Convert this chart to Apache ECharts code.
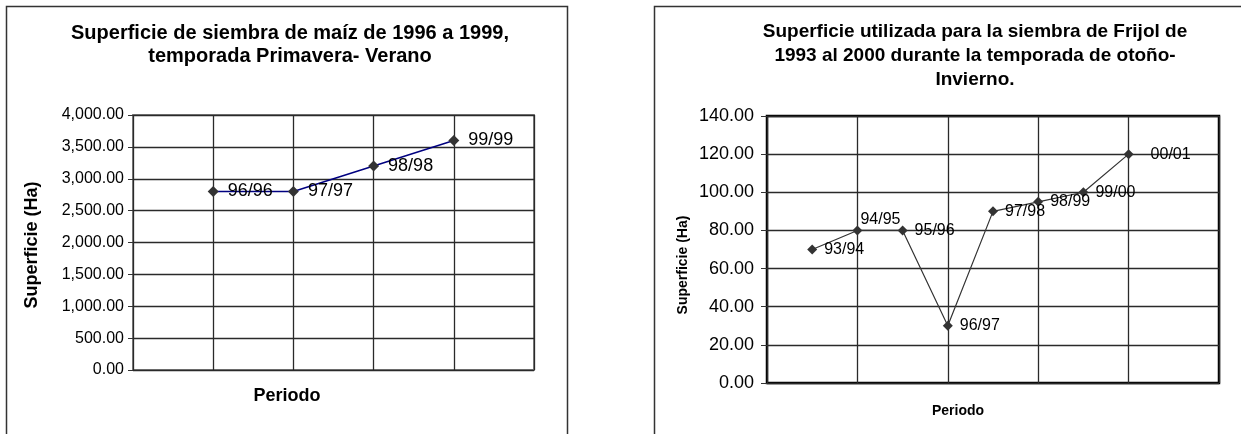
<!DOCTYPE html>
<html>
<head>
<meta charset="utf-8">
<script src="https://cdn.jsdelivr.net/npm/echarts@6/dist/echarts.min.js"></script>
<style>
  html, body { margin: 0; padding: 0; background: #fff; }
  #main { width: 1241px; height: 434px; }
</style>
</head>
<body>
<div id="main"></div>
<script>
// maiz, primavera-verano
var maizPeriodos = ['96/96', '97/97', '98/98', '99/99'];
var maizX = [1, 2, 3, 4];
var maizHa = [2800, 2800, 3200, 3600];

// frijol, otono-invierno
var frijolPeriodos = ['93/94', '94/95', '95/96', '96/97', '97/98', '98/99', '99/00', '00/01'];
var frijolX = [1, 2, 3, 4, 5, 6, 7, 8];
var frijolHa = [70, 80, 80, 30, 90, 95, 100, 120];

var FONT = 'Liberation Sans, Arial, sans-serif';

function fmtNum(v) {
    var s = v.toFixed(2).split('.');
    s[0] = s[0].replace(/\B(?=(\d{3})+(?!\d))/g, ',');
    return s.join('.');
}

var maizData = [];
for (var i = 0; i < maizX.length; i++) {
    maizData.push({ value: [maizX[i], maizHa[i]], name: maizPeriodos[i] });
}

var frijolData = [];
for (var j = 0; j < frijolX.length; j++) {
    var item = { value: [frijolX[j], frijolHa[j]], name: frijolPeriodos[j] };
    if (frijolPeriodos[j] == '94/95') {
        item.label = { offset: [-9, -11] };
    }
    if (frijolPeriodos[j] == '00/01') {
        item.label = { offset: [10, 0] };
    }
    frijolData.push(item);
}

var chart = echarts.init(document.getElementById('main'));
var option = {
    animation: false,
    backgroundColor: '#fff',
    graphic: [
        { type: 'rect', shape: { x: 6.5, y: 6.5, width: 561, height: 500 },
          style: { fill: 'none', stroke: '#333', lineWidth: 1.5 } },
        { type: 'rect', shape: { x: 654.5, y: 6.5, width: 700, height: 500 },
          style: { fill: 'none', stroke: '#333', lineWidth: 1.5 } },
        { type: 'text', x: 290, y: 22,
          style: { text: 'Superficie de siembra de maíz de 1996 a 1999,\ntemporada Primavera- Verano',
                   font: 'bold 20px ' + FONT, fill: '#000', align: 'center', lineHeight: 23 } },
        { type: 'text', x: 975, y: 20,
          style: { text: 'Superficie utilizada para la siembra de Frijol de\n1993 al 2000 durante la temporada de otoño-\nInvierno.',
                   font: 'bold 19px ' + FONT, fill: '#000', align: 'center', lineHeight: 24 } },
        { type: 'text', x: 32, y: 245, rotation: Math.PI / 2,
          style: { text: 'Superficie (Ha)', font: 'bold 18px ' + FONT, fill: '#000',
                   align: 'center', verticalAlign: 'middle' } },
        { type: 'text', x: 287, y: 396,
          style: { text: 'Periodo', font: 'bold 18px ' + FONT, fill: '#000',
                   align: 'center', verticalAlign: 'middle' } },
        { type: 'text', x: 683, y: 265, rotation: Math.PI / 2,
          style: { text: 'Superficie (Ha)', font: 'bold 14px ' + FONT, fill: '#000',
                   align: 'center', verticalAlign: 'middle' } },
        { type: 'text', x: 958, y: 411,
          style: { text: 'Periodo', font: 'bold 14px ' + FONT, fill: '#000',
                   align: 'center', verticalAlign: 'middle' } }
    ],
    grid: [
        { left: 133, top: 115, width: 401, height: 255, show: true,
          borderColor: '#808080', borderWidth: 2, backgroundColor: '#fff' },
        { left: 767, top: 116, width: 452, height: 267, show: true,
          borderColor: '#000', borderWidth: 2.5, backgroundColor: '#fff' }
    ],
    xAxis: [
        { gridIndex: 0, type: 'value', min: 0, max: 5, interval: 1,
          axisLine: { show: false }, axisTick: { show: false }, axisLabel: { show: false },
          splitLine: { show: true, lineStyle: { color: '#2a2a2a', width: 1.3 } } },
        { gridIndex: 1, type: 'value', min: 0, max: 10, interval: 2,
          axisLine: { show: false }, axisTick: { show: false }, axisLabel: { show: false },
          splitLine: { show: true, lineStyle: { color: '#2a2a2a', width: 1.3 } } }
    ],
    yAxis: [
        { gridIndex: 0, type: 'value', min: 0, max: 4000, interval: 500,
          axisLine: { show: false },
          axisTick: { show: true, length: 5, lineStyle: { color: '#333' } },
          axisLabel: { formatter: fmtNum, color: '#000', fontSize: 16, fontFamily: FONT, margin: 9 },
          splitLine: { show: true, lineStyle: { color: '#2a2a2a', width: 1.3 } } },
        { gridIndex: 1, type: 'value', min: 0, max: 140, interval: 20,
          axisLine: { show: false },
          axisTick: { show: true, length: 6, lineStyle: { color: '#333' } },
          axisLabel: { formatter: fmtNum, color: '#000', fontSize: 18, fontFamily: FONT, margin: 13 },
          splitLine: { show: true, lineStyle: { color: '#2a2a2a', width: 1.3 } } }
    ],
    series: [
        {
            type: 'line', xAxisIndex: 0, yAxisIndex: 0,
            data: maizData,
            symbol: 'diamond', symbolSize: 11,
            itemStyle: { color: '#333' },
            lineStyle: { color: '#000080', width: 1.5 },
            label: { show: true, position: 'right', distance: 9, formatter: '{b}',
                     color: '#000', fontSize: 18, fontFamily: FONT }
        },
        {
            type: 'line', xAxisIndex: 1, yAxisIndex: 1,
            data: frijolData,
            symbol: 'diamond', symbolSize: 10,
            itemStyle: { color: '#333' },
            lineStyle: { color: '#333', width: 1.2 },
            label: { show: true, position: 'right', distance: 7, formatter: '{b}',
                     color: '#000', fontSize: 16, fontFamily: FONT }
        }
    ]
};
chart.setOption(option);
</script>
</body>
</html>
